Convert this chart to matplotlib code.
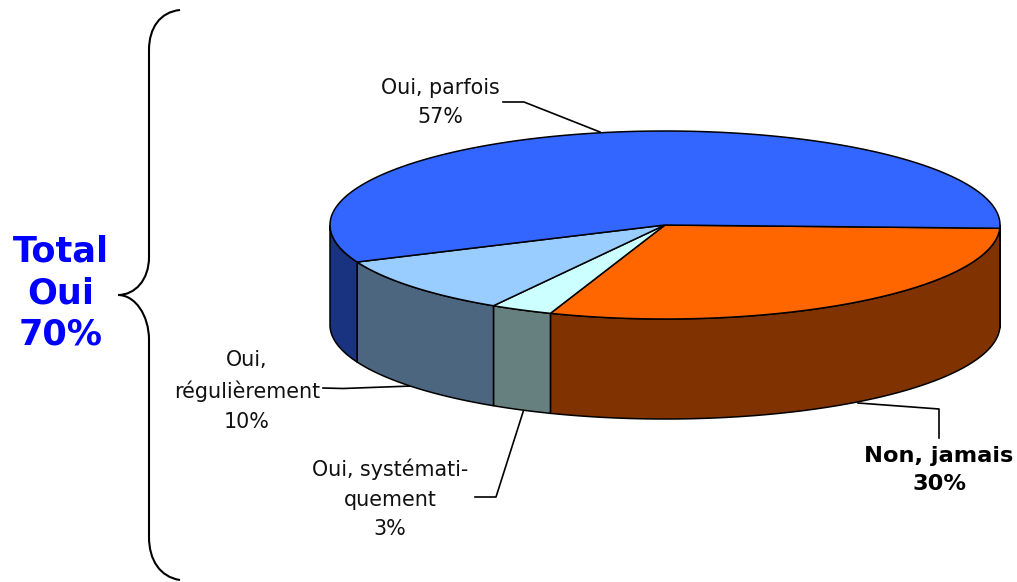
import numpy as np
import matplotlib
matplotlib.use('Agg')
import matplotlib.pyplot as plt
from matplotlib.patches import Polygon, PathPatch
from matplotlib.path import Path

labels = ['Non, jamais', 'Oui, systémati-\nquement', 'Oui,\nrégulièrement', 'Oui, parfois']
values = [30, 3, 10, 57]
top_colors = ['#FF6600', '#CCFFFF', '#99CCFF', '#3366FF']
side_colors = ['#803300', '#668080', '#4D6680', '#1A3380']
total_label = 'Total\nOui\n70%'

# pie geometry, in pixels
cx, cy = 665, 225
rx, ry = 335, 94
depth = 100
start = 2.0


def rim(a0, a1, dy=0):
    t = np.radians(np.linspace(a0, a1, 200))
    return np.column_stack([cx + rx * np.cos(t), cy + dy + ry * np.sin(t)])


fig = plt.figure(figsize=(10.17, 5.82), dpi=100)
ax = fig.add_axes([0, 0, 1, 1])
ax.set_xlim(0, 1017)
ax.set_ylim(582, 0)
ax.set_axis_off()

edges = start + np.cumsum([0] + values) * 3.6

# outer wall, only the front half of each slice shows
for i in range(len(values)):
    for a0, a1 in [(edges[i], edges[i + 1]), (edges[i] - 360, edges[i + 1] - 360)]:
        lo, hi = max(a0, 0), min(a1, 180)
        if hi <= lo:
            continue
        front = rim(lo, hi)
        back = rim(lo, hi, depth)[::-1]
        ax.add_patch(Polygon(np.vstack([front, back]), closed=True, fc=side_colors[i],
                             ec='black', lw=1.1, zorder=2))

# top face
for i in range(len(values)):
    pts = np.vstack([[cx, cy], rim(edges[i], edges[i + 1])])
    ax.add_patch(Polygon(pts, closed=True, fc=top_colors[i], ec='black', lw=1.1, zorder=3))

txt = dict(ha='center', va='center', fontsize=14.9, color='#111111', linespacing=1.6)
ax.text(440, 102.5, '{}\n{}%'.format(labels[3], values[3]), **txt)
ax.text(247, 391, '{}\n{}%'.format(labels[2], values[2]), **txt)
ax.text(390, 499, '{}\n{}%'.format(labels[1], values[1]), **txt)
ax.text(939, 470, '{}\n{}%'.format(labels[0], values[0]), ha='center', va='center',
        fontsize=16.2, fontweight='bold', color='black', linespacing=1.55)

# leader lines
ax.plot([503, 524, 600], [102, 102, 132], color='black', lw=1.2, zorder=1)
ax.plot([323, 343, 412], [388, 388.5, 386], color='black', lw=1.2, zorder=1)
ax.plot([475, 496, 524], [497, 497, 409], color='black', lw=1.2, zorder=1)
ax.plot([858, 939, 939], [403, 409, 438], color='black', lw=1.2, zorder=1)

ax.text(61, 293, total_label, ha='center', va='center', fontsize=25.3, fontweight='bold',
        color='#0000FF', linespacing=1.28)

# curly brace
brace = Path([(180, 10), (160, 12), (149, 28), (149, 50),
              (149, 257),
              (149, 280), (135, 295), (118, 295),
              (135, 295), (149, 315), (149, 340),
              (149, 537),
              (149, 560), (160, 577), (180, 580)],
             [Path.MOVETO, Path.CURVE4, Path.CURVE4, Path.CURVE4,
              Path.LINETO,
              Path.CURVE4, Path.CURVE4, Path.CURVE4,
              Path.CURVE4, Path.CURVE4, Path.CURVE4,
              Path.LINETO,
              Path.CURVE4, Path.CURVE4, Path.CURVE4])
ax.add_patch(PathPatch(brace, fc='none', ec='black', lw=1.5))

fig.savefig('out.png', dpi=100)
